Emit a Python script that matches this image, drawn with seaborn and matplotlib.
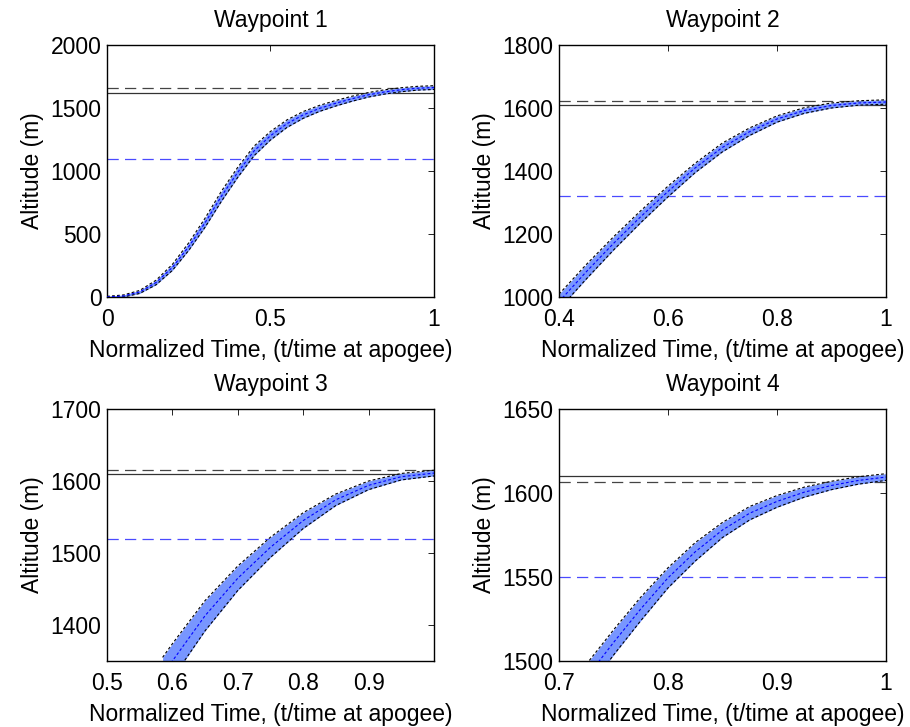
import numpy as np
import pandas as pd
import matplotlib
matplotlib.use("Agg")
import matplotlib.pyplot as plt
import seaborn as sns

# --- valores ---
titles = ["Waypoint 1", "Waypoint 2", "Waypoint 3", "Waypoint 4"]

t_wp1 = [0.0, 0.05, 0.1, 0.15, 0.2, 0.25, 0.3, 0.35, 0.4, 0.45, 0.5,
         0.55, 0.6, 0.65, 0.7, 0.75, 0.8, 0.85, 0.9, 0.95, 1.0]
h_wp1 = [0, 8, 40, 115, 235, 400, 590, 800, 990, 1160, 1280,
         1375, 1445, 1497, 1538, 1574, 1605, 1628, 1645, 1657, 1662]
s_wp1 = [5, 8, 12, 18, 24, 30, 36, 40, 40, 38, 34,
         30, 27, 24, 22, 20, 18, 17, 16, 15, 15]

t_wp2 = [0.4, 0.45, 0.5, 0.55, 0.6, 0.65, 0.7, 0.75, 0.8, 0.85, 0.9, 0.95, 1.0]
h_wp2 = [985, 1080, 1170, 1255, 1335, 1410, 1475, 1525, 1565, 1592, 1608, 1616, 1619]
s_wp2 = [24, 23, 21, 19, 17, 15, 14, 12, 10, 9, 8, 7, 7]

t_wp3 = [0.585, 0.6, 0.65, 0.7, 0.75, 0.8, 0.85, 0.9, 0.95, 1.0]
h_wp3 = [1330, 1350, 1413, 1465, 1508, 1545, 1574, 1594, 1606, 1611]
s_wp3 = [25, 24, 21, 17, 14, 11, 8, 6, 4.5, 4]

t_wp4 = [0.725, 0.75, 0.775, 0.8, 0.825, 0.85, 0.875, 0.9, 0.925, 0.95, 0.975, 1.0]
h_wp4 = [1490, 1511, 1531, 1549.5, 1565, 1578, 1588, 1595, 1600.5, 1604.5, 1607.5, 1609.5]
s_wp4 = [8, 7.5, 7, 6, 5.5, 4.5, 4, 3.5, 3, 2.5, 2.2, 2]

solid_ref = [1620, 1609, 1610, 1610]
dash_ref = [1660, 1622, 1615, 1606.5]
blue_ref = [1095, 1320, 1520, 1550]

xlims = [(0, 1), (0.4, 1), (0.5, 1), (0.7, 1)]
ylims = [(0, 2000), (1000, 1800), (1350, 1700), (1500, 1650)]
xticks = [[0, 0.5, 1], [0.4, 0.6, 0.8, 1], [0.5, 0.6, 0.7, 0.8, 0.9], [0.7, 0.8, 0.9, 1]]
yticks = [[0, 500, 1000, 1500, 2000], [1000, 1200, 1400, 1600, 1800],
          [1400, 1500, 1600, 1700], [1500, 1550, 1600, 1650]]

series = [(t_wp1, h_wp1, s_wp1), (t_wp2, h_wp2, s_wp2),
          (t_wp3, h_wp3, s_wp3), (t_wp4, h_wp4, s_wp4)]

sns.set_style("white")
plt.rcParams['font.family'] = ['Liberation Sans', 'DejaVu Sans']
plt.rcParams['text.color'] = 'black'
plt.rcParams['axes.labelcolor'] = 'black'
plt.rcParams['xtick.color'] = 'black'
plt.rcParams['ytick.color'] = 'black'
FS = 16.5

fig = plt.figure(figsize=(9.1, 7.27), dpi=100)
positions = [[0.1176, 0.5915, 0.3593, 0.3466], [0.6143, 0.5915, 0.3593, 0.3466],
             [0.1176, 0.0908, 0.3593, 0.3466], [0.6143, 0.0908, 0.3593, 0.3466]]

for i, pos in enumerate(positions):
    ax = fig.add_axes(pos)
    t, h, s = series[i]
    df = pd.DataFrame({'t': t, 'h': h, 's': s})
    df['lo'] = df['h'] - df['s']
    df['hi'] = df['h'] + df['s']

    # faixa das trajetórias
    ax.fill_between(df['t'], df['lo'], df['hi'], color='#7896ff', lw=0, zorder=2)
    sns.lineplot(data=df, x='t', y='lo', ax=ax, color='black', lw=0.8,
                 linestyle=(0, (2.5, 2)), zorder=3)
    sns.lineplot(data=df, x='t', y='hi', ax=ax, color='black', lw=0.8,
                 linestyle=(0, (2.5, 2)), zorder=3)
    sns.lineplot(data=df, x='t', y='h', ax=ax, color='#0000ff', lw=0.8,
                 linestyle=(0, (2.5, 2)), zorder=4)

    # linhas de referência
    ax.axhline(solid_ref[i], color='#333333', lw=0.9, zorder=1)
    ax.axhline(dash_ref[i], color='#444444', lw=0.9, linestyle=(0, (9, 5)), zorder=1)
    ax.axhline(blue_ref[i], color='#4a4aff', lw=0.9, linestyle=(0, (9, 5)), zorder=1)

    ax.set_xlim(*xlims[i])
    ax.set_ylim(*ylims[i])
    ax.set_xticks(xticks[i])
    ax.set_xticklabels([f"{v:g}" for v in xticks[i]])
    ax.set_yticks(yticks[i])
    ax.tick_params(direction='in', top=True, right=True, length=4, width=0.6,
                   labelsize=FS, pad=4)
    ax.tick_params(axis='x', pad=8)
    for sp in ax.spines.values():
        sp.set_linewidth(1.0)
        sp.set_color('black')
    ax.set_title(titles[i], fontsize=FS, pad=13)
    ax.set_xlabel('Normalized Time, (t/time at apogee)', fontsize=FS, labelpad=6)
    ax.set_ylabel('Altitude (m)', fontsize=FS, labelpad=5)

fig.savefig('out.png', dpi=100)
